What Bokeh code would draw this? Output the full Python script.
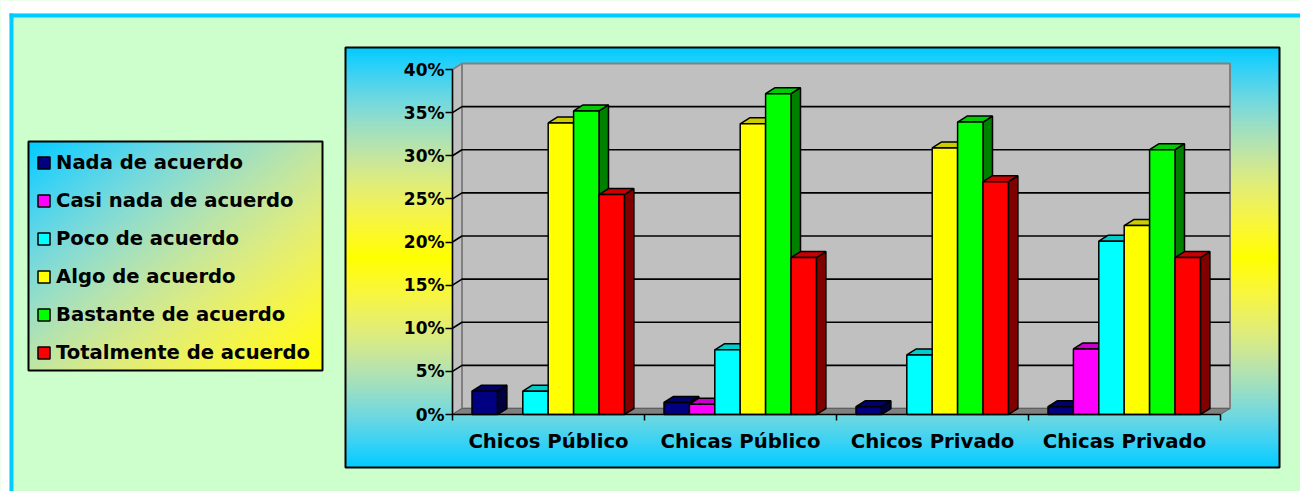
import numpy as np
from bokeh.plotting import figure
from bokeh.models import Range1d, LinearAxis, FixedTicker, Legend, LegendItem
from bokeh.embed import file_html
from bokeh.resources import INLINE

# ---------------- data ----------------
categories = ["Chicos Público", "Chicas Público", "Chicos Privado", "Chicas Privado"]
series_names = ["Nada de acuerdo", "Casi nada de acuerdo", "Poco de acuerdo",
                "Algo de acuerdo", "Bastante de acuerdo", "Totalmente de acuerdo"]
nada = [2.7, 1.4, 0.9, 0.9]
casi_nada = [0.0, 1.2, 0.0, 7.6]
poco = [2.7, 7.5, 6.9, 20.1]
algo = [33.8, 33.7, 30.9, 21.9]
bastante = [35.2, 37.2, 33.9, 30.7]
totalmente = [25.5, 18.2, 27.0, 18.2]
y_ticks = [0, 5, 10, 15, 20, 25, 30, 35, 40]

series_values = [nada, casi_nada, poco, algo, bastante, totalmente]

# ---------------- styles ----------------
front_colors = ["#000080", "#FF00FF", "#00FFFF", "#FFFF00", "#00FF00", "#FF0000"]
top_colors = ["#000066", "#CC00CC", "#00CCCC", "#CCCC00", "#00CC00", "#CC0000"]
side_colors = ["#000040", "#800080", "#008080", "#808000", "#008000", "#800000"]
FONT = "DejaVu Sans"
PAGE_GREEN = "#CCFFCC"
BORDER_CYAN = "#00CCFF"

W, H = 1300, 491
AX_X0, AX_X1 = 452, 1220        # front x-axis extent (px)
Y0_PX, YTOP_PX = 414, 69        # 0% and top tick (px from top)
ncat = len(categories)
ymax = y_ticks[-1]
px_per_cat = (AX_X1 - AX_X0) / ncat
px_per_pct = (Y0_PX - YTOP_PX) / ymax
DX = 9.5 / px_per_cat           # 3D depth, category units
DY = 6.0 / px_per_pct           # 3D depth, percent units
GROUP_PAD = 19.5 / px_per_cat
BAR_W = 25.4 / px_per_cat


def yb(y_top):
    return H - y_top


def grad_color(t):
    """blend cyan (t=0) -> yellow (t=1) through pale tones"""
    t = np.clip(t, 0, 1)
    r = 255 * (1 - (1 - t) ** 2)
    g = 204 + 51 * t
    b = 255 * (1 - t ** 1.5)
    return np.stack([r, g, b], axis=-1)


p = figure(width=W, height=H, x_range=Range1d(0, W), y_range=Range1d(0, H),
           x_axis_type=None, y_axis_type=None, toolbar_location=None, tools="",
           output_backend="svg", min_border=0, background_fill_color=PAGE_GREEN,
           border_fill_color=PAGE_GREEN, outline_line_color=None)
p.extra_x_ranges = {"cat": Range1d(-AX_X0 / px_per_cat, (W - AX_X0) / px_per_cat)}
p.extra_y_ranges = {"pct": Range1d((Y0_PX - H) / px_per_pct, Y0_PX / px_per_pct)}

# ---------------- page decoration ----------------
p.quad(left=0, right=W, top=H, bottom=yb(13), fill_color="white", line_color=None)
p.quad(left=0, right=9, top=H, bottom=0, fill_color="white", line_color=None)
p.quad(left=9, right=W, top=yb(13), bottom=yb(17), fill_color=BORDER_CYAN, line_color=None)
p.quad(left=9, right=13, top=yb(13), bottom=0, fill_color=BORDER_CYAN, line_color=None)

# chart-area box with vertical gradient (cyan - yellow - cyan)
CB_L, CB_T, CB_R, CB_B = 345, 47, 1279, 467
ch = CB_B - CB_T
img = np.empty((ch, 2), dtype=np.uint32)
v = img.view(dtype=np.uint8).reshape((ch, 2, 4))
rows = (np.arange(ch) + 0.5)
tt = 1 - np.abs(rows - ch / 2) / (ch / 2)
cc = grad_color(tt).astype(np.uint8)
v[:, :, 0:3] = cc[:, None, :]
v[:, :, 3] = 255
p.image_rgba(image=[img], x=CB_L, y=yb(CB_B), dw=CB_R - CB_L, dh=ch)
p.quad(left=CB_L, right=CB_R, top=yb(CB_T), bottom=yb(CB_B),
       fill_color=None, line_color="black", line_width=2)

# legend box with diagonal gradient
LB_L, LB_T, LB_R, LB_B = 28, 141, 322, 370
lw_, lh_ = LB_R - LB_L, LB_B - LB_T
limg = np.empty((lh_, lw_), dtype=np.uint32)
lv = limg.view(dtype=np.uint8).reshape((lh_, lw_, 4))
cols = np.arange(lw_) / lw_
ty_ = (lh_ - np.arange(lh_)) / lh_
T2 = (cols[None, :] + ty_[:, None]) / 2
lv[:, :, 0:3] = grad_color(T2).astype(np.uint8)
lv[:, :, 3] = 255
p.image_rgba(image=[limg], x=LB_L, y=yb(LB_B), dw=lw_, dh=lh_)
p.quad(left=LB_L, right=LB_R, top=yb(LB_T), bottom=yb(LB_B),
       fill_color=None, line_color="black", line_width=2)

# ---------------- 3D walls ----------------
rng = dict(x_range_name="cat", y_range_name="pct")
p.patch(x=[0, DX, DX, 0], y=[0, DY, ymax + DY, ymax], fill_color="#C0C0C0",
        line_color="#808080", line_width=1.5, **rng)
p.quad(left=DX, right=ncat + DX, bottom=DY, top=ymax + DY, fill_color="#C0C0C0",
       line_color="#808080", line_width=2, **rng)
p.patch(x=[0, ncat, ncat + DX, DX], y=[0, 0, DY, DY], fill_color="#808080",
        line_color="#606060", line_width=1, **rng)
gx, gy = [], []
for t in y_ticks[1:-1]:
    gx.append([0, DX, ncat + DX])
    gy.append([t, t + DY, t + DY])
p.multi_line(xs=gx, ys=gy, line_color="black", line_width=1.6, **rng)

# ---------------- 3D bars ----------------
bar_geo = []
for i, vals in enumerate(series_values):
    L, R, T = [], [], []
    for g, val in enumerate(vals):
        if val > 0:
            left = g + GROUP_PAD + i * BAR_W
            L.append(left); R.append(left + BAR_W); T.append(val)
    bar_geo.append((L, R, T))

for i, (L, R, T) in enumerate(bar_geo):
    sx = [[r, r + DX, r + DX, r] for r in R]
    sy = [[0, DY, t + DY, t] for t in T]
    p.patches(xs=sx, ys=sy, fill_color=side_colors[i], line_color="black",
              line_width=1.5, **rng)
    tx = [[l, r, r + DX, l + DX] for l, r in zip(L, R)]
    ty = [[t, t, t + DY, t + DY] for t in T]
    p.patches(xs=tx, ys=ty, fill_color=top_colors[i], line_color="black",
              line_width=1.5, **rng)

fronts = []
for i, (L, R, T) in enumerate(bar_geo):
    r_ = p.quad(left=L, right=R, bottom=[0] * len(L), top=T,
                fill_color=front_colors[i], line_color="black", line_width=1.5, **rng)
    fronts.append(r_)

# ---------------- axes ----------------
yaxis = LinearAxis(x_range_name="cat", y_range_name="pct", fixed_location=0,
                   bounds=(0, ymax), ticker=FixedTicker(ticks=y_ticks),
                   major_label_overrides={t: f"{t}%" for t in y_ticks},
                   major_tick_in=0, major_tick_out=7, minor_tick_in=0, minor_tick_out=0,
                   axis_line_width=1.5, major_tick_line_width=1.5,
                   major_label_standoff=1, major_label_text_font=FONT,
                   major_label_text_font_style="bold", major_label_text_font_size="17px",
                   major_label_text_color="black")
p.add_layout(yaxis, "left")

centers = [g + 0.5 for g in range(ncat)]
xaxis = LinearAxis(x_range_name="cat", y_range_name="pct", fixed_location=0,
                   bounds=(0, ncat),
                   ticker=FixedTicker(ticks=centers, minor_ticks=list(range(ncat + 1))),
                   major_label_overrides={c: n for c, n in zip(centers, categories)},
                   major_tick_in=0, major_tick_out=0, minor_tick_in=0, minor_tick_out=6,
                   axis_line_width=1.5, minor_tick_line_width=1.5,
                   major_label_standoff=9, major_label_text_font=FONT,
                   major_label_text_font_style="bold", major_label_text_font_size="19.7px",
                   major_label_text_color="black")
p.add_layout(xaxis, "below")

# ---------------- legend ----------------
legend = Legend(items=[LegendItem(label=n, renderers=[r]) for n, r in zip(series_names, fronts)],
                location=(36, yb(364)), orientation="vertical",
                glyph_width=15, glyph_height=15, label_height=23, spacing=15,
                padding=0, margin=0, label_standoff=5,
                background_fill_alpha=0, border_line_color=None,
                label_text_font=FONT, label_text_font_style="bold",
                label_text_font_size="19.6px", label_text_color="black")
p.add_layout(legend)

html = file_html(p, INLINE)
html = html.replace("<body>", '<body style="margin:0;background:%s;">' % PAGE_GREEN, 1)
open("out.html", "w").write(html)
